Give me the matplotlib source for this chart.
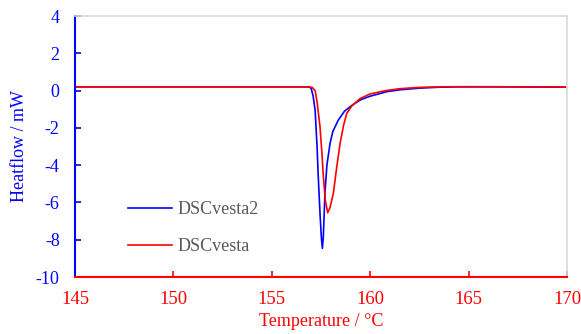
import matplotlib
matplotlib.use("Agg")
import matplotlib.pyplot as plt

# Data
temp_blue = [145, 150, 155, 156.5, 156.9, 157.0, 157.1, 157.2, 157.3, 157.36, 157.45, 157.52, 157.57,
             157.62, 157.7, 157.8, 157.96, 158.1, 158.38, 158.7, 159.06, 159.5, 160.0, 160.84,
             161.5, 162.5, 163.5, 164.5, 166, 170]
heat_blue = [0.20, 0.20, 0.20, 0.20, 0.19, 0.12, -0.3, -1.04, -3.0, -4.6, -6.6, -7.9, -8.46,
             -7.8, -5.5, -4.0, -2.83, -2.2, -1.58, -1.1, -0.80, -0.5, -0.3, -0.06,
             0.04, 0.13, 0.18, 0.20, 0.20, 0.18]

temp_red = [145, 150, 155, 156.9, 157.05, 157.2, 157.3, 157.45, 157.55, 157.62, 157.72, 157.84,
            157.95, 158.13, 158.3, 158.47, 158.65, 158.81, 159.06, 159.5, 160.0, 160.8,
            161.5, 162.5, 163.5, 165, 170]
heat_red = [0.20, 0.20, 0.20, 0.20, 0.17, 0.0, -0.6, -1.94, -3.4, -4.6, -5.9, -6.55,
            -6.3, -5.5, -4.1, -2.83, -1.85, -1.22, -0.83, -0.42, -0.18, 0.0,
            0.1, 0.17, 0.2, 0.21, 0.19]

labels = ["DSCvesta2", "DSCvesta"]
x_ticks = [145, 150, 155, 160, 165, 170]
y_ticks = [4, 2, 0, -2, -4, -6, -8, -10]

BLUE = "#0000FF"
RED = "#FF0000"

plt.rcParams['font.family'] = ['Liberation Serif', 'DejaVu Serif']

fig = plt.figure(figsize=(5.81, 3.34), dpi=100)
ax = fig.add_axes([75/581, 1-277/334, (567-75)/581, (277-16)/334])

l1, = ax.plot(temp_blue, heat_blue, color=BLUE, lw=1.2, label=labels[0])
l2, = ax.plot(temp_red, heat_red, color=RED, lw=1.2, label=labels[1])

ax.set_xlim(145, 170)
ax.set_ylim(-10, 4)
ax.set_xticks(x_ticks)
ax.set_yticks(y_ticks)
ax.set_xticklabels([str(t) for t in x_ticks])
ax.set_yticklabels([str(t) for t in y_ticks])

ax.spines['left'].set_color(BLUE)
ax.spines['left'].set_linewidth(1.5)
ax.spines['bottom'].set_color(RED)
ax.spines['bottom'].set_linewidth(1.5)
ax.spines['top'].set_color('#d9d9d9')
ax.spines['right'].set_color('#d9d9d9')
ax.spines['top'].set_linewidth(1.2)
ax.spines['right'].set_linewidth(1.2)

ax.tick_params(axis='y', direction='in', length=4, width=1.2, color=BLUE,
               labelcolor=BLUE, labelsize=13, pad=11)
ax.tick_params(axis='x', direction='in', length=4, width=1.2, color=RED,
               labelcolor=RED, labelsize=13.5, pad=10)

ax.set_xlabel("Temperature / \u00b0C", color=RED, fontsize=13, labelpad=4)
ax.set_ylabel("Heatflow / mW", color=BLUE, fontsize=13, labelpad=6)

leg = ax.legend(handles=[l1, l2], loc='upper left', bbox_to_anchor=(0.075, 0.352),
                frameon=False, fontsize=13, handlelength=2.45, handletextpad=0.3,
                labelspacing=1.1)
for t in leg.get_texts():
    t.set_color('#595959')

fig.savefig("out.png", dpi=100)
